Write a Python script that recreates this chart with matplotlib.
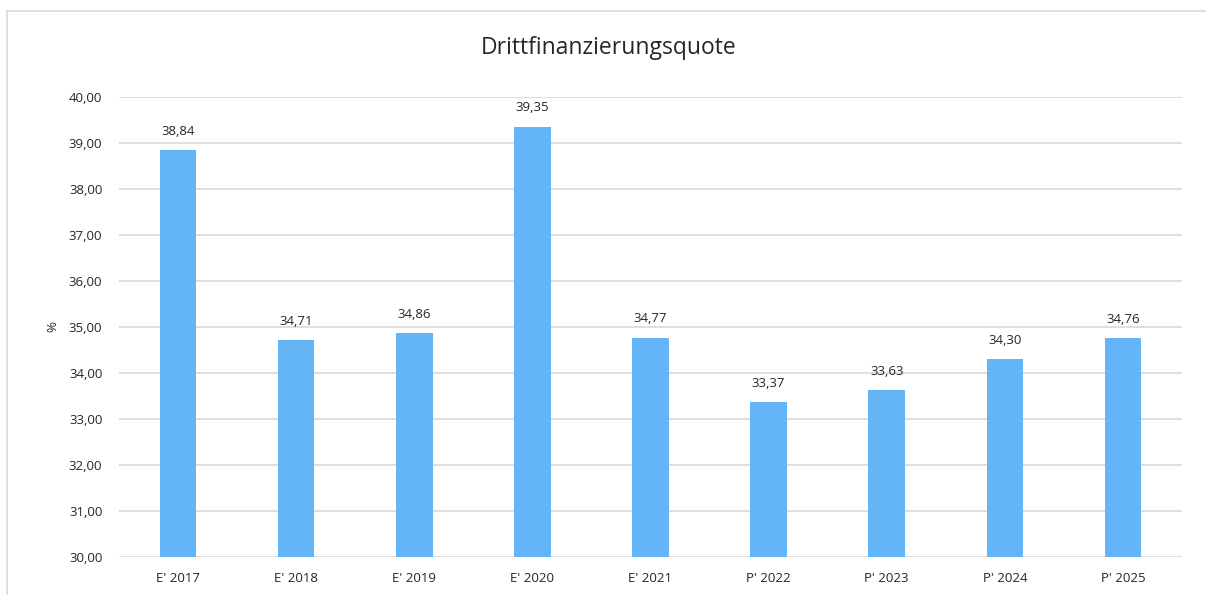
import matplotlib.pyplot as plt
from matplotlib.lines import Line2D

categories = ["E' 2017", "E' 2018", "E' 2019", "E' 2020", "E' 2021",
              "P' 2022", "P' 2023", "P' 2024", "P' 2025"]
values = [38.84, 34.71, 34.86, 39.35, 34.77, 33.37, 33.63, 34.30, 34.76]
yticks = [30, 31, 32, 33, 34, 35, 36, 37, 38, 39, 40]

plt.rcParams['font.family'] = ['Open Sans', 'DejaVu Sans']

W, H = 1206, 595
fig = plt.figure(figsize=(W / 100, H / 100), dpi=100)
ax = fig.add_axes([119 / W, 1 - 557 / H, (1182 - 119) / W, (557 - 97) / H])

# outer chart frame (only top and left visible)
fig.add_artist(Line2D([7 / W, 1], [1 - 11 / H, 1 - 11 / H], color='#d9d9d9', lw=1.2))
fig.add_artist(Line2D([7 / W, 7 / W], [0, 1 - 11 / H], color='#d9d9d9', lw=1.2))

x = range(len(categories))
bars = ax.bar(x, values, width=0.31, color='#63b5f7', zorder=3)

for b, v in zip(bars, values):
    ax.text(b.get_x() + b.get_width() / 2, v + 0.27, f"{v:.2f}".replace('.', ','),
            ha='center', va='bottom', fontsize=9.5, color='#262626')

ax.set_xlim(-0.5, len(categories) - 0.5)
ax.set_ylim(30, 40)
ax.set_yticks(yticks)
ax.set_yticklabels([f"{t:.2f}".replace('.', ',') for t in yticks])
ax.set_xticks(list(x))
ax.set_xticklabels(categories)
ax.grid(axis='y', color='#d9d9d9', lw=1.2, zorder=0)
for s in ax.spines.values():
    s.set_visible(False)
ax.tick_params(length=0, labelsize=9.5, colors='#262626')
ax.tick_params(axis='y', pad=12)
ax.tick_params(axis='x', pad=11)

ax.set_ylabel('%', fontsize=9.5, color='#262626', labelpad=7)
fig.text(609 / W, 1 - 48 / H, 'Drittfinanzierungsquote', ha='center', va='center',
         fontsize=16.5, color='#262626')

fig.savefig('out.png', dpi=100)
